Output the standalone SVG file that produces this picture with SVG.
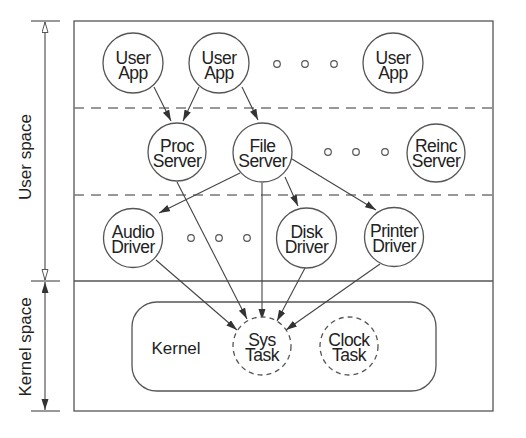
<svg xmlns="http://www.w3.org/2000/svg" width="526" height="438" viewBox="0 0 526 438">
<style>
.frame{fill:none;stroke:#555;stroke-width:1.3}
.node{fill:#fff;stroke:#555;stroke-width:1.3}
.task{fill:#fff;stroke:#555;stroke-width:1.3;stroke-dasharray:5,4}
.dash{stroke:#777;stroke-width:1.3;stroke-dasharray:10,7}
.dot{fill:#fff;stroke:#555;stroke-width:1.2}
.edge{stroke:#444;stroke-width:1.1;fill:none;marker-end:url(#ah)}
text{font-family:"Liberation Sans",Arial,sans-serif;font-size:17px;fill:#222;text-anchor:middle}
.lbl{font-size:17.5px;letter-spacing:-0.5px}
</style>
<defs>
<marker id="ah" markerUnits="userSpaceOnUse" markerWidth="12" markerHeight="8" refX="11" refY="3.5" orient="auto">
<path d="M0,0 L11,3.5 L0,7 z" fill="#333"/>
</marker>
<marker id="openA" markerUnits="userSpaceOnUse" markerWidth="12" markerHeight="8" refX="11" refY="3.5" orient="auto">
<path d="M0.5,0.5 L11,3.5 L0.5,6.5 z" fill="#fff" stroke="#555" stroke-width="1"/>
</marker>
<marker id="fillA" markerUnits="userSpaceOnUse" markerWidth="12" markerHeight="8" refX="11" refY="3.5" orient="auto">
<path d="M0,0 L11,3.5 L0,7 z" fill="#333"/>
</marker>
</defs>

<g id="frame">
<rect class="frame" x="74" y="21" width="419" height="390"/>
<line x1="74" y1="281" x2="493" y2="281" stroke="#555" stroke-width="1.3"/>
<line class="dash" x1="74" y1="108" x2="493" y2="108"/>
<line class="dash" x1="74" y1="195" x2="493" y2="195"/>
</g>

<g id="dimensions">
<line x1="31" y1="21" x2="60" y2="21" stroke="#555" stroke-width="1.2"/>
<line x1="31" y1="281" x2="60" y2="281" stroke="#555" stroke-width="1.2"/>
<line x1="31" y1="411" x2="60" y2="411" stroke="#555" stroke-width="1.2"/>
<line x1="45" y1="151" x2="45" y2="22" stroke="#555" stroke-width="1.2" marker-end="url(#openA)"/>
<line x1="45" y1="151" x2="45" y2="280" stroke="#555" stroke-width="1.2" marker-end="url(#openA)"/>
<line x1="45" y1="346" x2="45" y2="282" stroke="#555" stroke-width="1.2" marker-end="url(#fillA)"/>
<line x1="45" y1="346" x2="45" y2="410" stroke="#555" stroke-width="1.2" marker-end="url(#fillA)"/>
<text transform="translate(31,157) rotate(-90)">User space</text>
<text transform="translate(31,347) rotate(-90)">Kernel space</text>
</g>

<g id="kernel">
<rect class="frame" x="132" y="302" width="304" height="89" rx="25" ry="25"/>
<text x="176" y="354">Kernel</text>
</g>

<g id="dots">
<circle class="dot" cx="277" cy="64" r="3.3"/>
<circle class="dot" cx="305" cy="64" r="3.3"/>
<circle class="dot" cx="334" cy="64" r="3.3"/>
<circle class="dot" cx="328" cy="152" r="3.3"/>
<circle class="dot" cx="356" cy="152" r="3.3"/>
<circle class="dot" cx="385" cy="152" r="3.3"/>
<circle class="dot" cx="191" cy="238" r="3.3"/>
<circle class="dot" cx="219" cy="238" r="3.3"/>
<circle class="dot" cx="247" cy="238" r="3.3"/>
</g>

<g id="connectors">
<line class="edge" x1="154" y1="87" x2="171" y2="121"/>
<line class="edge" x1="199" y1="87" x2="183" y2="121"/>
<line class="edge" x1="242" y1="87" x2="258" y2="120"/>
<line class="edge" x1="240" y1="173" x2="159" y2="213"/>
<line class="edge" x1="285" y1="177" x2="298" y2="206"/>
<line class="edge" x1="292" y1="159" x2="376" y2="210"/>
<line class="edge" x1="177" y1="182" x2="247" y2="319"/>
<line class="edge" x1="262" y1="183" x2="262" y2="320"/>
<line class="edge" x1="156" y1="260" x2="237" y2="330"/>
<line class="edge" x1="305" y1="268" x2="277" y2="321"/>
<line class="edge" x1="380" y1="264" x2="286" y2="330"/>
</g>

<g id="userapp1"><circle class="node" cx="133" cy="63" r="30"/><text class="lbl" x="133" y="64">User<tspan x="133" dy="15">App</tspan></text></g>
<g id="userapp2"><circle class="node" cx="219" cy="63" r="30"/><text class="lbl" x="219" y="64">User<tspan x="219" dy="15">App</tspan></text></g>
<g id="userapp3"><circle class="node" cx="393" cy="63" r="30"/><text class="lbl" x="393" y="64">User<tspan x="393" dy="15">App</tspan></text></g>
<g id="procserver"><circle class="node" cx="177" cy="152" r="29"/><text class="lbl" x="177" y="152">Proc<tspan x="177" dy="15">Server</tspan></text></g>
<g id="fileserver"><circle class="node" cx="262.5" cy="152.5" r="29.5"/><text class="lbl" x="262.5" y="152">File<tspan x="262.5" dy="15">Server</tspan></text></g>
<g id="reincserver"><circle class="node" cx="436" cy="153" r="29"/><text class="lbl" x="436" y="152">Reinc<tspan x="436" dy="15">Server</tspan></text></g>
<g id="audiodriver"><circle class="node" cx="133" cy="238" r="29.5"/><text class="lbl" x="133" y="238">Audio<tspan x="133" dy="15">Driver</tspan></text></g>
<g id="diskdriver"><circle class="node" cx="306.5" cy="238" r="30"/><text class="lbl" x="306.5" y="238">Disk<tspan x="306.5" dy="15">Driver</tspan></text></g>
<g id="printerdriver"><circle class="node" cx="394" cy="237" r="29.5"/><text class="lbl" x="394" y="237">Printer<tspan x="394" dy="15">Driver</tspan></text></g>
<g id="systask"><circle class="task" cx="262" cy="346" r="29"/><text class="lbl" x="262" y="346">Sys<tspan x="262" dy="15">Task</tspan></text></g>
<g id="clocktask"><circle class="task" cx="349" cy="346" r="29"/><text class="lbl" x="349" y="346">Clock<tspan x="349" dy="15">Task</tspan></text></g>
</svg>
